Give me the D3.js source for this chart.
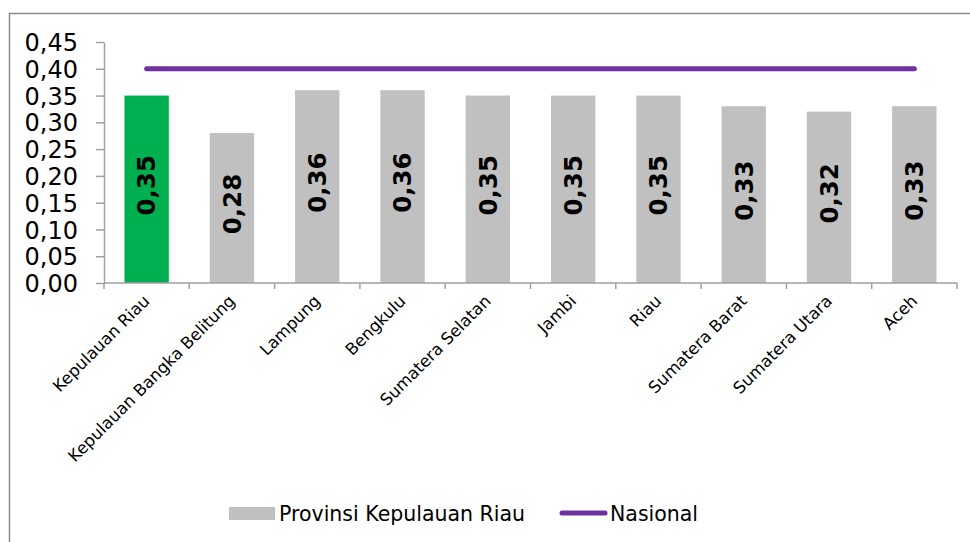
<!DOCTYPE html>
<html>
<head>
<meta charset="utf-8">
<script src="https://cdn.jsdelivr.net/npm/d3@7"></script>
<style>
  body { margin: 0; background: #fff; }
  svg { display: block; }
</style>
</head>
<body>
<div id="chart-area"></div>
<script>
const provinces = ["Kepulauan Riau", "Kepulauan Bangka Belitung", "Lampung", "Bengkulu",
    "Sumatera Selatan", "Jambi", "Riau", "Sumatera Barat", "Sumatera Utara", "Aceh"];
const provValues = [0.35, 0.28, 0.36, 0.36, 0.35, 0.35, 0.35, 0.33, 0.32, 0.33];
const nasional = [0.40, 0.40, 0.40, 0.40, 0.40, 0.40, 0.40, 0.40, 0.40, 0.40];
const yTicks = [0, 0.05, 0.10, 0.15, 0.20, 0.25, 0.30, 0.35, 0.40, 0.45];
const seriesNames = ["Provinsi Kepulauan Riau", "Nasional"];

const width = 970, height = 542;
const margin = { top: 42, left: 104, right: 13, bottom: 259 };
const innerW = width - margin.left - margin.right;
const innerH = height - margin.top - margin.bottom;
const font = "'DejaVu Sans', Verdana, sans-serif";
const axisColor = "#a0a0a0";

const svg = d3.select("#chart-area")
    .append("svg")
    .attr("width", width)
    .attr("height", height);

// chart border (runs off right and bottom)
svg.append("rect")
    .attr("x", 9.5).attr("y", 13.5)
    .attr("width", 1000).attr("height", 600)
    .attr("fill", "none")
    .attr("stroke", "#8c8c8c")
    .attr("stroke-width", 1.5);

const g = svg.append("g")
    .attr("transform", `translate(${margin.left}, ${margin.top})`);

const x = d3.scaleBand()
    .domain(provinces)
    .range([0, innerW])
    .paddingInner(0.48)
    .paddingOuter(0.24);

const band = d3.scaleBand().domain(provinces).range([0, innerW]);

const y = d3.scaleLinear()
    .domain([0, 0.45])
    .range([innerH, 0]);

// y axis
const yAxis = g.append("g")
    .call(d3.axisLeft(y).tickValues(yTicks).tickSize(8).tickSizeOuter(0)
        .tickFormat(d => d3.format(".2f")(d).replace(".", ",")));
yAxis.select(".domain").attr("stroke", axisColor).attr("stroke-width", 1.5);
yAxis.selectAll(".tick line").attr("stroke", axisColor).attr("stroke-width", 1.5);
yAxis.selectAll(".tick text")
    .attr("x", -26)
    .attr("dy", "0.36em")
    .attr("font-family", font)
    .attr("font-size", "24px")
    .attr("fill", "#000");

// bars
g.selectAll("rect.bar")
    .data(provValues)
    .enter()
    .append("rect")
    .attr("class", "bar")
    .attr("x", (d, i) => x(provinces[i]))
    .attr("y", d => y(d))
    .attr("width", x.bandwidth())
    .attr("height", d => innerH - y(d))
    .attr("fill", (d, i) => i === 0 ? "#00b050" : "#c0c0c0");

// value labels (rotated)
g.selectAll("text.val")
    .data(provValues)
    .enter()
    .append("text")
    .attr("class", "val")
    .attr("transform", (d, i) => {
        const cx = x(provinces[i]) + x.bandwidth() / 2;
        const cy = (y(d) + innerH) / 2 - 4;
        return `translate(${cx}, ${cy}) rotate(-90)`;
    })
    .attr("text-anchor", "middle")
    .attr("dy", "0.36em")
    .attr("font-family", font)
    .attr("font-size", "24.5px")
    .attr("font-weight", "bold")
    .attr("fill", "#000")
    .text(d => d3.format(".2f")(d).replace(".", ","));

// x axis
const xAxisG = g.append("g")
    .attr("transform", `translate(0, ${innerH})`);
xAxisG.append("line")
    .attr("x1", 0).attr("x2", innerW)
    .attr("stroke", axisColor).attr("stroke-width", 1.5);
xAxisG.selectAll("line.tk")
    .data(d3.range(provinces.length + 1))
    .enter()
    .append("line")
    .attr("class", "tk")
    .attr("x1", i => i * band.bandwidth())
    .attr("x2", i => i * band.bandwidth())
    .attr("y1", 0).attr("y2", 6)
    .attr("stroke", axisColor).attr("stroke-width", 1.5);
xAxisG.selectAll("text")
    .data(provinces)
    .enter()
    .append("text")
    .attr("transform", d => `translate(${band(d) + band.bandwidth() / 2 + 4}, 19) rotate(-45)`)
    .attr("text-anchor", "end")
    .attr("font-family", font)
    .attr("font-size", "16.5px")
    .attr("fill", "#000")
    .text(d => d);

// nasional line
const line = d3.line()
    .x((d, i) => band(provinces[i]) + band.bandwidth() / 2)
    .y(d => y(d));
g.append("path")
    .datum(nasional)
    .attr("d", line)
    .attr("fill", "none")
    .attr("stroke", "#7030a0")
    .attr("stroke-width", 5)
    .attr("stroke-linecap", "round");

// legend
const legend = svg.append("g");
legend.append("rect")
    .attr("x", 229).attr("y", 507)
    .attr("width", 46).attr("height", 13)
    .attr("fill", "#c0c0c0");
legend.append("text")
    .attr("x", 279).attr("y", 514)
    .attr("dy", "0.36em")
    .attr("font-family", font)
    .attr("font-size", "20.5px")
    .attr("fill", "#000")
    .text(seriesNames[0]);
legend.append("line")
    .attr("x1", 562).attr("x2", 605)
    .attr("y1", 513).attr("y2", 513)
    .attr("stroke", "#7030a0")
    .attr("stroke-width", 5)
    .attr("stroke-linecap", "round");
legend.append("text")
    .attr("x", 610).attr("y", 514)
    .attr("dy", "0.36em")
    .attr("font-family", font)
    .attr("font-size", "20.5px")
    .attr("fill", "#000")
    .text(seriesNames[1]);
</script>
</body>
</html>
